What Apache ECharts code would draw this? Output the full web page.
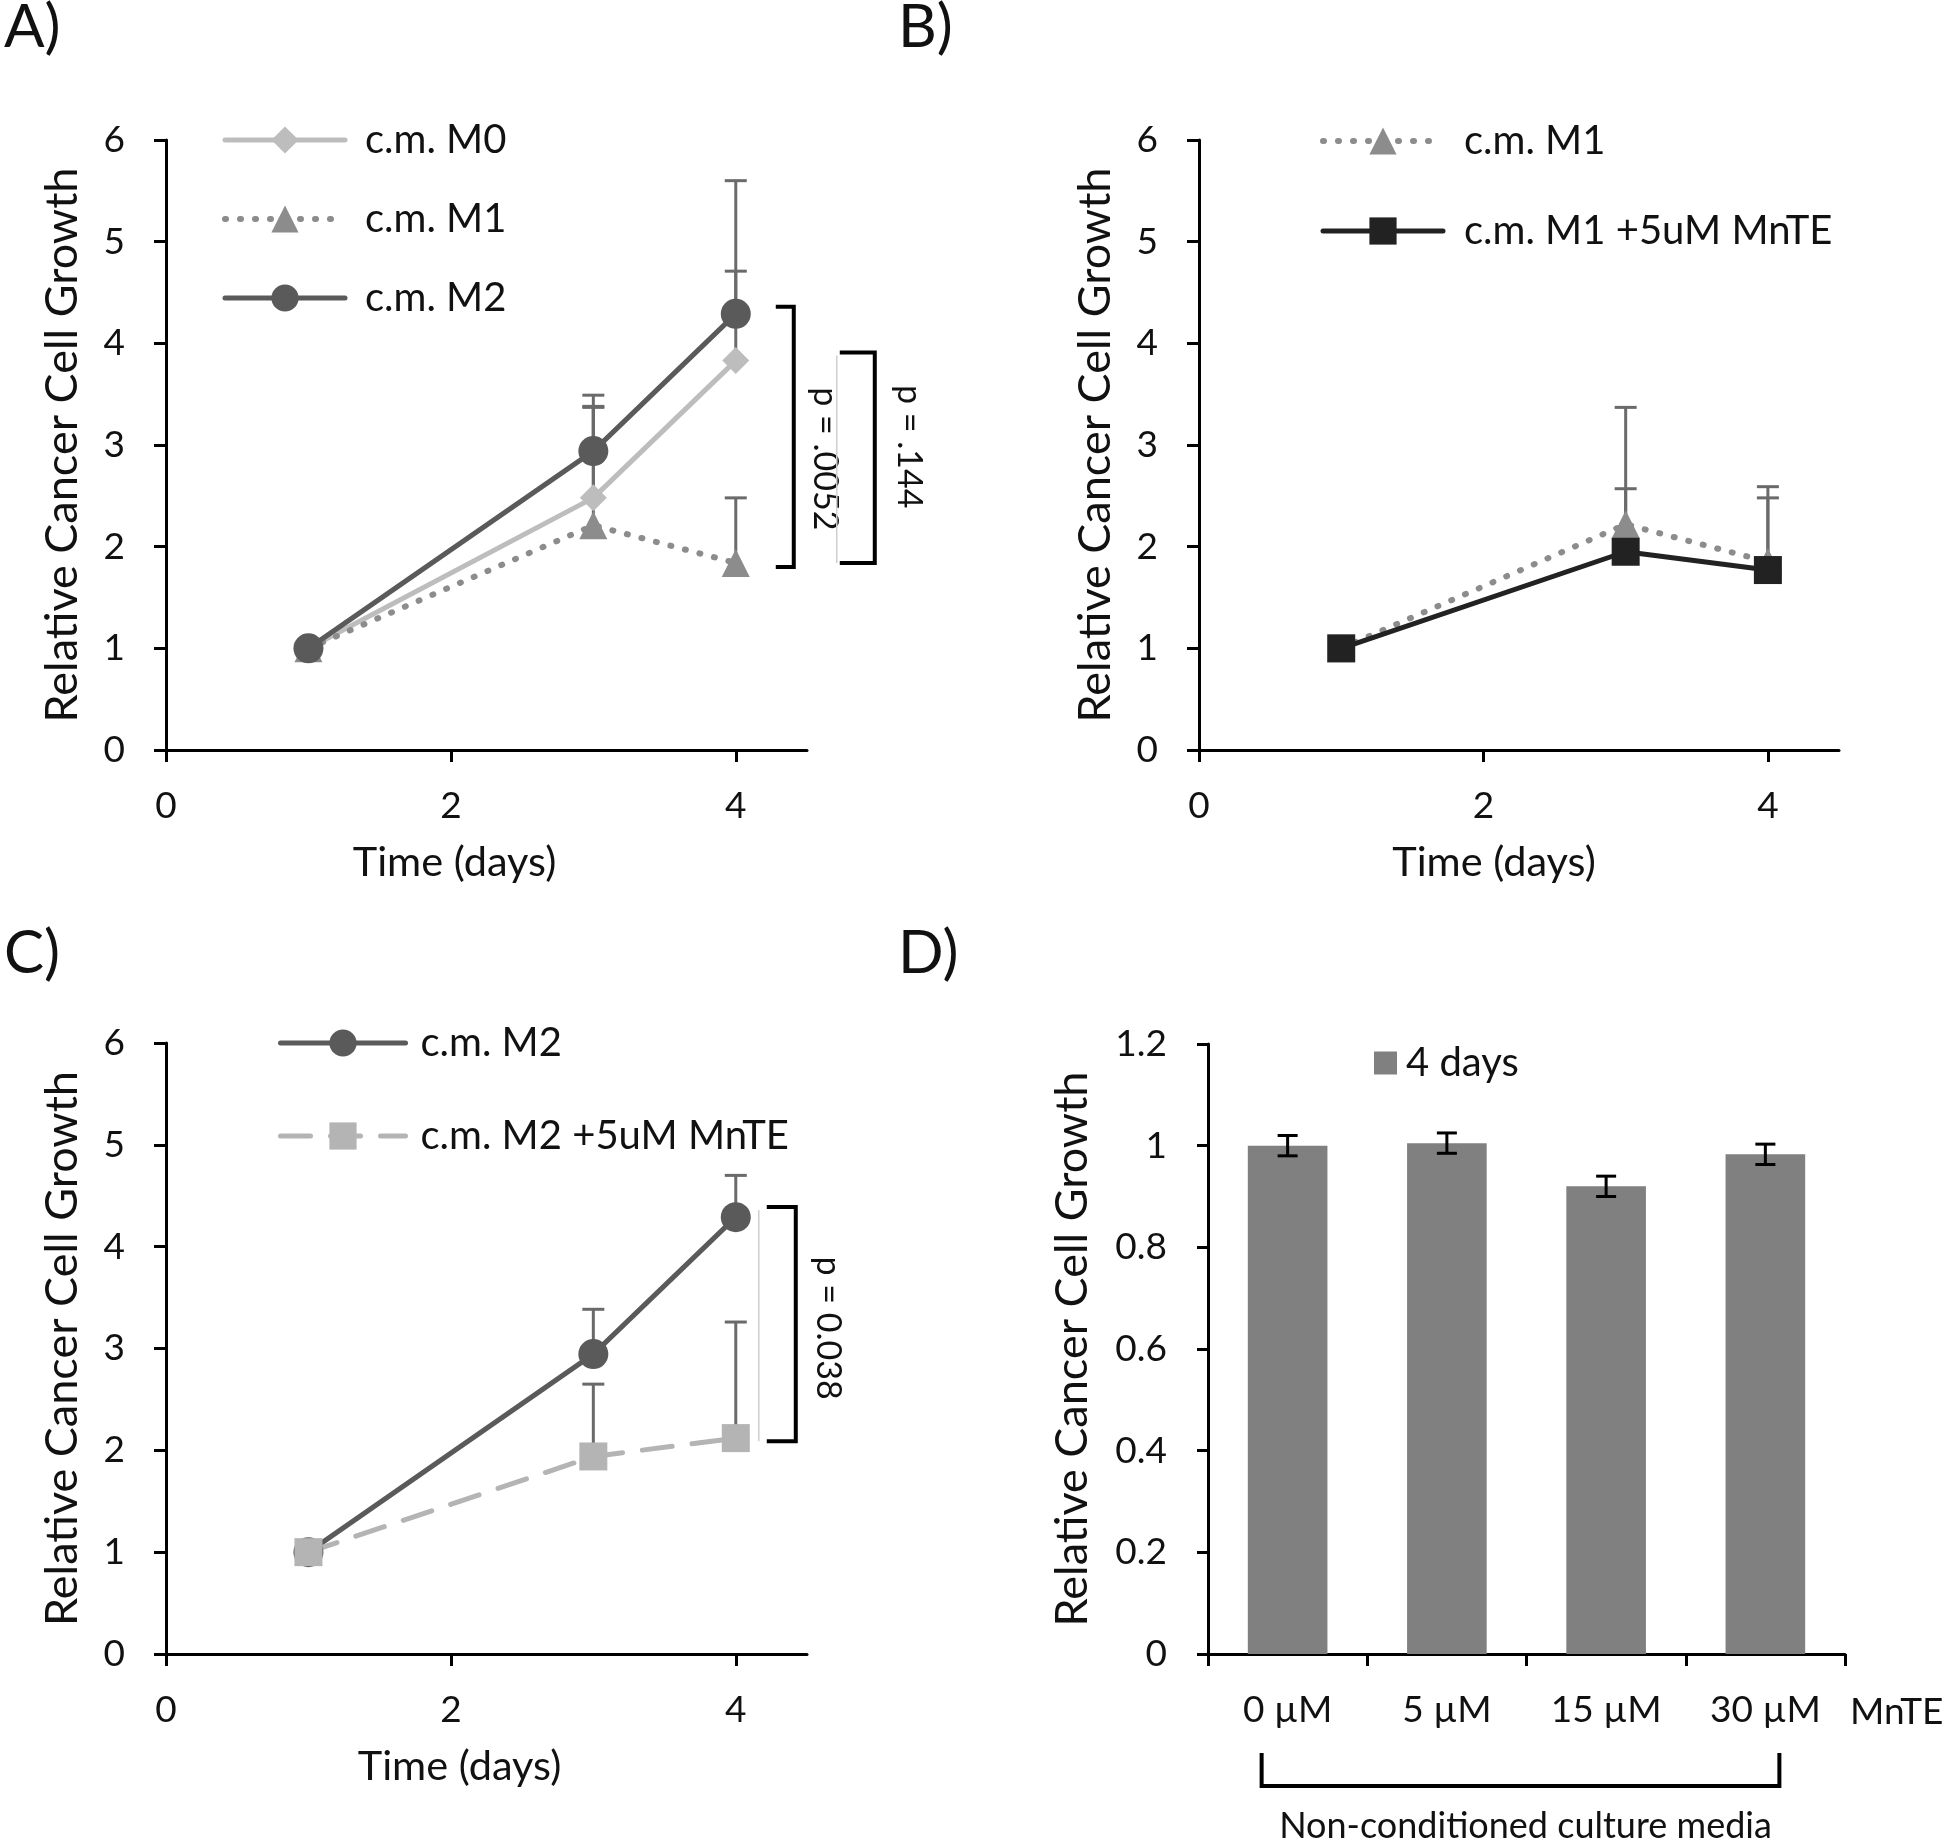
<!DOCTYPE html>
<html><head><meta charset="utf-8">
<script src="https://cdn.jsdelivr.net/npm/echarts@6/dist/echarts.min.js"></script>
<style>html,body{margin:0;padding:0;background:#fff}#c{width:1950px;height:1844px}</style>
</head><body><div id="c"></div>
<script>
// ---- data ----
const days = [1, 3, 4];
const xTicks = [0, 2, 4];
// Panel A
const aM0 = [1, 2.48, 3.83];      const aM0Err = [0, 1.01, 1.77];
const aM1 = [1, 2.21, 1.84];      const aM1Err = [0, 1.16, 0.64];
const aM2 = [1, 2.94, 4.29];      const aM2Err = [0, 0.44, 0.42];
const aBrackets = [[4.36, 1.80, 'p = .0052'], [3.91, 1.84, 'p = .144']];
// Panel B
const bM1 = [1, 2.22, 1.85];      const bM1Err = [0, 1.15, 0.63];
const bMn = [1, 1.95, 1.77];      const bMnErr = [0, 0.62, 0.82];
// Panel C
const cM2 = [1, 2.945, 4.29];     const cM2Err = [0, 0.44, 0.41];
const cMn = [1, 1.94, 2.12];      const cMnErr = [0, 0.71, 1.14];
const cBrackets = [[4.39, 2.09, 'p = 0.038']];
// Panel D
const dCats = ['0 µM', '5 µM', '15 µM', '30 µM'];
const dVals = [1.0, 1.005, 0.92, 0.983];
const dErr = [0.02, 0.02, 0.02, 0.02];

const FONT = 'Lato';
const FS = 40;      // legend
const FT = 37;      // tick labels
const FY = 45;      // y axis title
const FX = 41.5;    // x axis title
const FP = 34;      // p-values
const TXT = '#111';

const chart = echarts.init(document.getElementById('c'), null, {renderer: 'canvas'});

function xyPairs(vals) { return days.map((d, i) => [d, vals[i]]); }
function errData(vals, errs) { return days.map((d, i) => [d, vals[i], errs[i]]); }

function errRender(params, api) {
  const e = api.value(2);
  if (!e) return null;
  const x = api.value(0), y = api.value(1);
  const p0 = api.coord([x, y]), p1 = api.coord([x, y + e]);
  const st = {stroke: '#6a6a6a', lineWidth: 3};
  return {type: 'group', children: [
    {type: 'line', shape: {x1: p0[0], y1: p0[1], x2: p1[0], y2: p1[1]}, style: st},
    {type: 'line', shape: {x1: p1[0] - 11, y1: p1[1], x2: p1[0] + 11, y2: p1[1]}, style: st}
  ]};
}

const bracketSets = {bA: aBrackets, bC: cBrackets};
function bracketRender(offsets) {
  // offsets per bracket: [lineX, tickLeftX, textX, thinX, textDy] in px relative to day-4 position
  return function (params, api) {
    const i = params.dataIndex;
    const top = api.value(0), bot = api.value(1);
    const label = bracketSets[params.seriesName][i][2];
    const o = offsets[i];
    const pt = api.coord([4, top]), pb = api.coord([4, bot]);
    const bx = pt[0] + o[0], tl = pt[0] + o[1];
    const st = {stroke: '#000', lineWidth: 4, fill: null};
    const ch = [
      {type: 'polyline', shape: {points: [[tl, pt[1]], [bx, pt[1]], [bx, pb[1]], [tl, pb[1]]]}, style: st},
      {type: 'text', x: pt[0] + o[2], y: (pt[1] + pb[1]) / 2 + o[4], rotation: -Math.PI / 2,
        style: {text: label, font: FP + 'px ' + FONT, fill: TXT, align: 'center', verticalAlign: 'middle'}}
    ];
    if (o[3] != null) {
      ch.push({type: 'line', shape: {x1: pt[0] + o[3], y1: pt[1] + 3, x2: pt[0] + o[3], y2: pb[1]}, style: {stroke: '#cfcfcf', lineWidth: 1.5}});
    }
    return {type: 'group', children: ch};
  };
}

function valueX(gi, shift) {
  return {type: 'value', gridIndex: gi, min: 0, max: 4.5, interval: 2,
    name: 'Time (days)', nameLocation: 'middle', nameGap: 92,
    nameTextStyle: {fontSize: FX, color: TXT, fontFamily: FONT, padding: [0, shift, 0, 0]},
    axisLine: {lineStyle: {color: '#000', width: 3}},
    axisTick: {show: true, length: 12, lineStyle: {color: '#000', width: 3}, customValues: xTicks},
    axisLabel: {fontSize: FT, color: TXT, margin: 38, customValues: xTicks},
    splitLine: {show: false}};
}
function valueY(gi) {
  return {type: 'value', gridIndex: gi, min: 0, max: 6, interval: 1,
    name: 'Relative Cancer Cell Growth', nameLocation: 'middle', nameGap: 81, nameRotate: 90,
    nameTextStyle: {fontSize: FY, color: TXT, fontFamily: FONT},
    axisLine: {show: true, lineStyle: {color: '#000', width: 3}},
    axisTick: {show: true, length: 12, lineStyle: {color: '#000', width: 3}},
    axisLabel: {fontSize: FT, color: TXT, margin: 41},
    splitLine: {show: false}};
}

function lineSeries(name, gi, vals, color, symbol, size, lineType, width) {
  return {type: 'line', name: name, xAxisIndex: gi, yAxisIndex: gi, data: xyPairs(vals),
    symbol: symbol, symbolSize: size, showSymbol: true, z: 3,
    itemStyle: {color: color, borderWidth: 0},
    lineStyle: {color: color, width: width || 5, type: lineType || 'solid', cap: 'round'},
    emphasis: {disabled: true}, animation: false};
}
function errSeries(gi, vals, errs) {
  return {type: 'custom', xAxisIndex: gi, yAxisIndex: gi, z: 2, renderItem: errRender,
    data: errData(vals, errs), animation: false, silent: true};
}

const C_M0 = '#bdbdbd', C_M1 = '#8c8c8c', C_M2 = '#5a5a5a', C_BMN = '#222222', C_CMN = '#b4b4b4';
const DOT = [1, 14];

function legendItem(name, w) { return {name: name, lineStyle: {width: w}}; }
function legendCfg(left, top, items, width, gap, pad) {
  return {left: left, top: top, orient: 'vertical', data: items, itemWidth: width, itemHeight: 34,
    itemGap: gap, selectedMode: false, padding: 0,
    textStyle: {fontSize: FS, color: TXT, fontFamily: FONT, lineHeight: 40, padding: [0, 0, 0, pad]}};
}

const option = {
  animation: false,
  textStyle: {fontFamily: FONT},
  grid: [
    {left: 166, top: 140, width: 641, height: 610},
    {left: 1199, top: 140, width: 640, height: 610},
    {left: 166, top: 1043, width: 641, height: 611},
    {left: 1208, top: 1044, width: 637, height: 610}
  ],
  xAxis: [valueX(0, 64), valueX(1, 50), valueX(2, 54),
    {type: 'category', gridIndex: 3, data: dCats,
      axisLine: {lineStyle: {color: '#000', width: 3}},
      axisTick: {show: true, length: 12, lineStyle: {color: '#000', width: 3}},
      axisLabel: {fontSize: FT, color: TXT, margin: 38}}
  ],
  yAxis: [valueY(0), valueY(1), valueY(2),
    {type: 'value', gridIndex: 3, min: 0, max: 1.2, interval: 0.2,
      name: 'Relative Cancer Cell Growth', nameLocation: 'middle', nameGap: 113, nameRotate: 90,
      nameTextStyle: {fontSize: FY, color: TXT, fontFamily: FONT},
      axisLine: {show: true, lineStyle: {color: '#000', width: 3}},
      axisTick: {show: true, length: 11, lineStyle: {color: '#000', width: 3}},
      axisLabel: {fontSize: FT, color: TXT, margin: 41},
      splitLine: {show: false}}
  ],
  legend: [
    legendCfg(222, 120, [legendItem('c.m. M0', 5), legendItem('c.m. M1', 6), legendItem('c.m. M2', 5)], 120, 39, 15),
    legendCfg(1320, 121, [legendItem('c.m. M1 ', 6), legendItem('c.m. M1 +5uM MnTE', 5)], 120, 50, 16),
    legendCfg(278, 1023, [legendItem('c.m. M2 ', 5), legendItem('c.m. M2 +5uM MnTE', 5)], 125, 53, 10),
    {left: 1374, top: 1043, data: ['4 days'], icon: 'rect', itemWidth: 23, itemHeight: 23, selectedMode: false, padding: 0,
      textStyle: {fontSize: FS, color: TXT, fontFamily: FONT, padding: [0, 0, 0, 4]}}
  ],
  graphic: [
    {type: 'text', left: 4, top: -2, style: {text: 'A)', font: '60px ' + FONT, fill: TXT}},
    {type: 'text', left: 898, top: -2, style: {text: 'B)', font: '60px ' + FONT, fill: TXT}},
    {type: 'text', left: 4, top: 924, style: {text: 'C)', font: '60px ' + FONT, fill: TXT}},
    {type: 'text', left: 898, top: 924, style: {text: 'D)', font: '60px ' + FONT, fill: TXT}}
  ],
  series: [
    // Panel A
    errSeries(0, aM0, aM0Err), errSeries(0, aM1, aM1Err), errSeries(0, aM2, aM2Err),
    lineSeries('c.m. M0', 0, aM0, C_M0, 'diamond', 27),
    lineSeries('c.m. M1', 0, aM1, C_M1, 'triangle', 28, DOT, 6),
    lineSeries('c.m. M2', 0, aM2, C_M2, 'circle', 30),
    {type: 'custom', name: 'bA', xAxisIndex: 0, yAxisIndex: 0, z: 4, clip: false, silent: true,
      renderItem: bracketRender([[58, 40, 89, null, 22], [139, 104, 173, 101, -11]]),
      data: aBrackets.map(b => [b[0], b[1]])},
    // Panel B
    errSeries(1, bM1, bM1Err), errSeries(1, bMn, bMnErr),
    lineSeries('c.m. M1 ', 1, bM1, C_M1, 'triangle', 28, DOT, 6),
    lineSeries('c.m. M1 +5uM MnTE', 1, bMn, C_BMN, 'rect', 28),
    // Panel C
    errSeries(2, cM2, cM2Err), errSeries(2, cMn, cMnErr),
    lineSeries('c.m. M2 ', 2, cM2, C_M2, 'circle', 30),
    lineSeries('c.m. M2 +5uM MnTE', 2, cMn, C_CMN, 'rect', 28, [30, 20]),
    {type: 'custom', name: 'bC', xAxisIndex: 2, yAxisIndex: 2, z: 4, clip: false, silent: true,
      renderItem: bracketRender([[60, 31, 92, 23, 4]]),
      data: cBrackets.map(b => [b[0], b[1]])},
    // Panel D
    {type: 'bar', name: '4 days', xAxisIndex: 3, yAxisIndex: 3, data: dVals, barWidth: '50%',
      itemStyle: {color: '#808080'}, emphasis: {disabled: true}, z: 2},
    {type: 'custom', xAxisIndex: 3, yAxisIndex: 3, z: 3, silent: true,
      data: dVals.map((v, i) => [i, v - dErr[i], v + dErr[i]]),
      renderItem: function (params, api) {
        const lo = api.coord([api.value(0), api.value(1)]), hi = api.coord([api.value(0), api.value(2)]);
        const st = {stroke: '#000', lineWidth: 3};
        return {type: 'group', children: [
          {type: 'line', shape: {x1: lo[0], y1: lo[1], x2: hi[0], y2: hi[1]}, style: st},
          {type: 'line', shape: {x1: lo[0] - 10, y1: lo[1], x2: lo[0] + 10, y2: lo[1]}, style: st},
          {type: 'line', shape: {x1: hi[0] - 10, y1: hi[1], x2: hi[0] + 10, y2: hi[1]}, style: st}
        ]};
      }},
    {type: 'custom', xAxisIndex: 3, yAxisIndex: 3, z: 3, silent: true, clip: false,
      data: [[0, 3]],
      renderItem: function (params, api) {
        const l = api.coord([api.value(0), 0]), r = api.coord([api.value(1), 0]);
        const band = api.size([1, 0])[0];
        const x1 = l[0] - 26, x2 = r[0] + 14, y0 = l[1];
        return {type: 'group', children: [
          {type: 'polyline', shape: {points: [[x1, y0 + 99], [x1, y0 + 132], [x2, y0 + 132], [x2, y0 + 99]]},
            style: {stroke: '#000', lineWidth: 4, fill: null}},
          {type: 'text', x: (x1 + x2) / 2 + 5, y: y0 + 172,
            style: {text: 'Non-conditioned culture media', font: '36px ' + FONT, fill: TXT, align: 'center', verticalAlign: 'middle'}},
          {type: 'text', x: r[0] + band / 2 + 5, y: y0 + 58,
            style: {text: 'MnTE', font: FT + 'px ' + FONT, fill: TXT, align: 'left', verticalAlign: 'middle'}}
        ]};
      }}
  ]
};
chart.setOption(option);
</script></body></html>
